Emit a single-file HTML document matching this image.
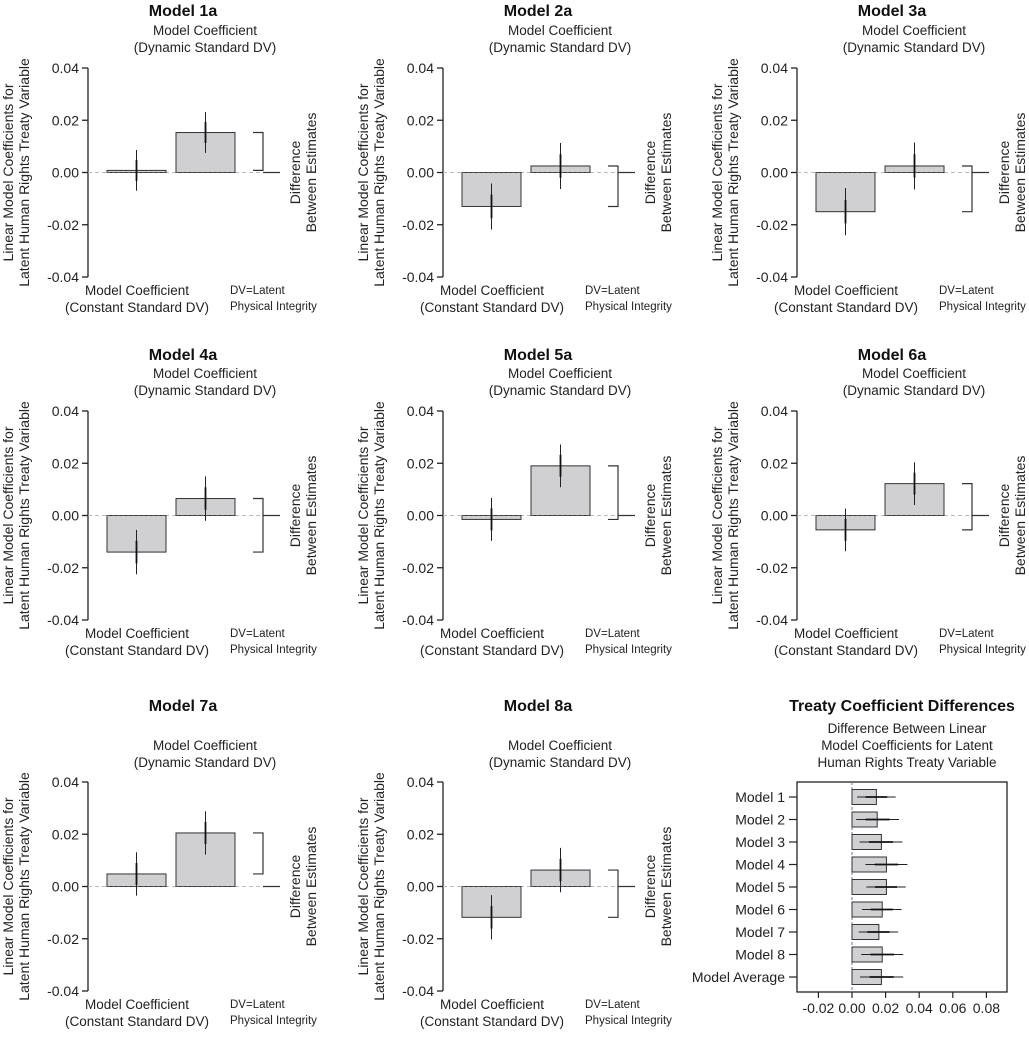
<!DOCTYPE html>
<html><head><meta charset="utf-8"><style>
body{margin:0;background:#fff}
svg{display:block;font-family:"Liberation Sans",sans-serif}
</style></head><body>
<svg id="c" width="1029" height="1038" viewBox="0 0 1029 1038" xmlns="http://www.w3.org/2000/svg"></svg>
<script>
// panel data
const panelNames = ["Model 1a","Model 2a","Model 3a","Model 4a","Model 5a","Model 6a","Model 7a","Model 8a"];
const constCoef = [0.0008,-0.013,-0.015,-0.014,-0.0015,-0.0055,0.0048,-0.0118];
const dynCoef = [0.0153,0.0025,0.0025,0.0065,0.019,0.0122,0.0205,0.0063];
const ciThin = [0.0078,0.0088,0.009,0.0085,0.0082,0.0082,0.0083,0.0085];
const ciThick = [0.004,0.0045,0.0045,0.0043,0.0042,0.0042,0.0042,0.0043];
const yTicks = [0.04,0.02,0.00,-0.02,-0.04];
const yTickLabels = ["0.04","0.02","0.00","-0.02","-0.04"];
// summary panel data
const diffModels = ["Model 1","Model 2","Model 3","Model 4","Model 5","Model 6","Model 7","Model 8","Model Average"];
const diffValues = [0.0145,0.015,0.0175,0.0205,0.0205,0.018,0.016,0.018,0.0175];
const diffLow = [0.003,0.0025,0.0045,0.008,0.0085,0.006,0.004,0.0055,0.0048];
const diffHigh = [0.026,0.028,0.030,0.033,0.032,0.0295,0.0275,0.0305,0.0305];
const xTicks = [-0.02,0,0.02,0.04,0.06,0.08];
const xTickLabels = ["-0.02","0.00","0.02","0.04","0.06","0.08"];

const svg = document.getElementById('c');
const NS = "http://www.w3.org/2000/svg";
function el(tag, attrs, parent, text){
  const e = document.createElementNS(NS, tag);
  for (const k in attrs) e.setAttribute(k, attrs[k]);
  if (text !== undefined) e.textContent = text;
  (parent||svg).appendChild(e);
  return e;
}
const colX = [88,443,797];
const rowY = [68,411,782];
const titleY = [16,360,711];
const subY = [35,378,750];

panelNames.forEach((name,i)=>{
  const ax = colX[i%3], top = rowY[Math.floor(i/3)], r = Math.floor(i/3);
  const g = el('g',{});
  
  
  const ys = v => top + (0.04 - v) / 0.08 * 209;
  const t = el('text',{x:ax+95,y:titleY[r],'text-anchor':'middle','font-size':16,'font-weight':'bold',fill:'#111'},g,name);
  
  
  const s1 = el('text',{x:ax+117,y:subY[r],'text-anchor':'middle','font-size':13.5,fill:'#222'},g,'Model Coefficient');
  
  
  el('text',{x:ax+117,y:subY[r]+17,'text-anchor':'middle','font-size':13.5,fill:'#222'},g,'(Dynamic Standard DV)');
  const axis = el('line',{x1:ax,x2:ax,y1:ys(0.04),y2:ys(-0.04),stroke:'#222','stroke-width':1.3},g);
  
  
  yTicks.forEach((v,k)=>{
    el('line',{x1:ax-6,x2:ax,y1:ys(v),y2:ys(v),stroke:'#222','stroke-width':1.3},g);
    const tl = el('text',{x:ax-9,y:ys(v)+5,'text-anchor':'end','font-size':14,fill:'#222'},g,yTickLabels[k]);
    
    
  });
  el('line',{x1:ax,x2:ax+192,y1:ys(0),y2:ys(0),stroke:'#bbb','stroke-width':1,'stroke-dasharray':'4,3'},g);
  const yt = el('text',{transform:`translate(${ax-75},${ys(0)}) rotate(-90)`,'text-anchor':'middle','font-size':14,fill:'#222'},g,'Linear Model Coefficients for');
  
  
  el('text',{transform:`translate(${ax-59},${ys(0)}) rotate(-90)`,'text-anchor':'middle','font-size':14,fill:'#222'},g,'Latent Human Rights Treaty Variable');
  [[constCoef[i],19],[dynCoef[i],88]].forEach(([v,off],b)=>{
    const y0 = Math.min(ys(0),ys(v)), h = Math.abs(ys(v)-ys(0));
    const bar = el('rect',{x:ax+off,y:y0,width:59,height:Math.max(h,1),fill:'#d0d0d2',stroke:'#333','stroke-width':1},g);
    
    
    el('line',{x1:ax+off,x2:ax+off+59,y1:ys(0),y2:ys(0),stroke:'#555','stroke-width':1,'stroke-dasharray':'3,2'},g);
    const cx = ax+off+29.5;
    const eb = el('line',{x1:cx,x2:cx,y1:ys(v+ciThin[i]),y2:ys(v-ciThin[i]),stroke:'#222','stroke-width':1},g);
    
    
    el('line',{x1:cx,x2:cx,y1:ys(v+ciThick[i]),y2:ys(v-ciThick[i]),stroke:'#111','stroke-width':1.8},g);
  });
  const br = el('path',{d:`M${ax+165},${ys(dynCoef[i])} H${ax+175} V${ys(constCoef[i])} H${ax+165}`,fill:'none',stroke:'#333','stroke-width':1.2},g);
  
  
  el('line',{x1:ax+175,x2:ax+192,y1:ys(0),y2:ys(0),stroke:'#333','stroke-width':1.2},g);
  const dt = el('text',{transform:`translate(${ax+212},${ys(0)}) rotate(-90)`,'text-anchor':'middle','font-size':14,fill:'#222'},g,'Difference');
  
  
  el('text',{transform:`translate(${ax+228},${ys(0)}) rotate(-90)`,'text-anchor':'middle','font-size':14,fill:'#222'},g,'Between Estimates');
  const bl = el('text',{x:ax+49,y:top+227,'text-anchor':'middle','font-size':13.5,fill:'#222'},g,'Model Coefficient');
  
  
  el('text',{x:ax+49,y:top+244,'text-anchor':'middle','font-size':13.5,fill:'#222'},g,'(Constant Standard DV)');
  const dv = el('text',{x:ax+142,y:top+226,'font-size':11.5,fill:'#222'},g,'DV=Latent');
  
  
  el('text',{x:ax+142,y:top+242,'font-size':11.5,fill:'#222'},g,'Physical Integrity');
});

(function(){
  const g = el('g',{});
  
  
  const bx0=797,bx1=1007,by0=782,by1=992;
  const xs = v => 852 + v/0.02*33.6;
  const ysr = k => 797 + k*22.5;
  const t = el('text',{x:902,y:711,'text-anchor':'middle','font-size':16,'font-weight':'bold',fill:'#111'},g,'Treaty Coefficient Differences');
  
  
  ['Difference Between Linear','Model Coefficients for Latent','Human Rights Treaty Variable'].forEach((s,k)=>{
    el('text',{x:907,y:733+k*17,'text-anchor':'middle','font-size':13.5,fill:'#222'},g,s);
  });
  const box = el('rect',{x:bx0,y:by0,width:bx1-bx0,height:by1-by0,fill:'none',stroke:'#222','stroke-width':1.3},g);
  
  
  el('line',{x1:xs(0),x2:xs(0),y1:by0,y2:by1,stroke:'#777','stroke-width':1,'stroke-dasharray':'3,2'},g);
  xTicks.forEach((v,k)=>{
    el('line',{x1:xs(v),x2:xs(v),y1:by1,y2:by1+6,stroke:'#222','stroke-width':1.2},g);
    const tl = el('text',{x:xs(v),y:by1+21,'text-anchor':'middle','font-size':14,fill:'#222'},g,xTickLabels[k]);
    
    
  });
  diffModels.forEach((m,k)=>{
    const y = ysr(k);
    el('line',{x1:bx0-8,x2:bx0,y1:y,y2:y,stroke:'#222','stroke-width':1.2},g);
    const lab = el('text',{x:bx0-12,y:y+5,'text-anchor':'end','font-size':14,fill:'#222'},g,m);
    
    
    const bar = el('rect',{x:xs(0),y:y-7.5,width:xs(diffValues[k])-xs(0),height:15,fill:'#d0d0d2',stroke:'#333','stroke-width':1},g);
    
    
    el('line',{x1:xs(diffLow[k]),x2:xs(diffHigh[k]),y1:y,y2:y,stroke:'#222','stroke-width':1},g);
    const mid=(diffLow[k]+diffHigh[k])/2, hw=(diffHigh[k]-diffLow[k])*0.28;
    el('line',{x1:xs(mid-hw),x2:xs(mid+hw),y1:y,y2:y,stroke:'#111','stroke-width':1.8},g);
  });
})();
</script>
</body></html>
